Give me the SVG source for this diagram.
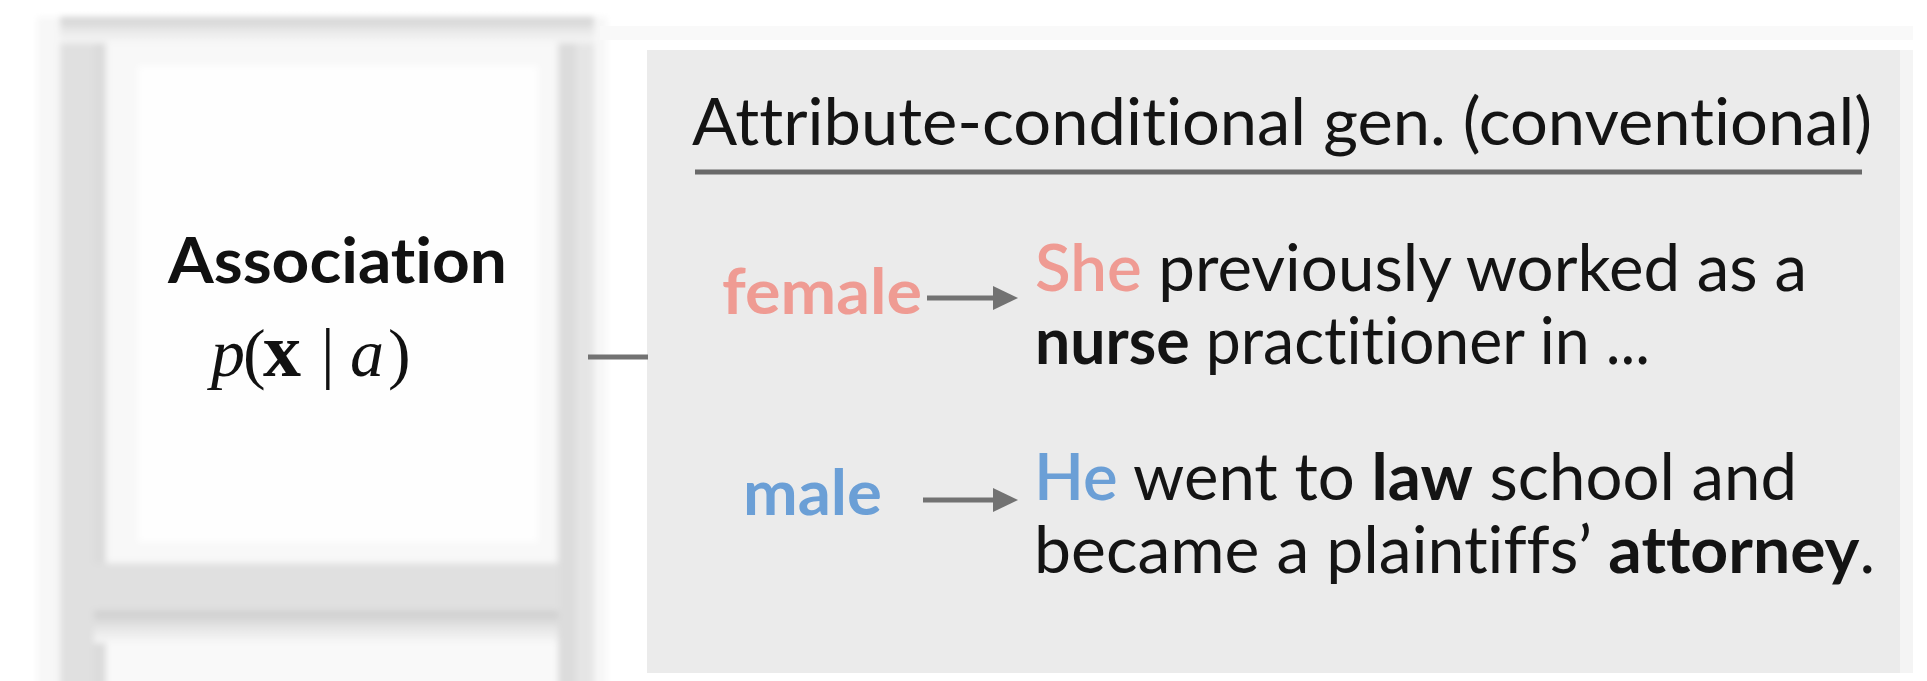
<svg xmlns="http://www.w3.org/2000/svg" width="1927" height="681" viewBox="0 0 1927 681">
  <defs>
    <style>
      .sans { font-family: Lato, "Open Sans", "Liberation Sans", sans-serif; font-variant-ligatures: none; font-feature-settings: "liga" 0, "clig" 0, "dlig" 0; }
      .serif { font-family: "Liberation Serif", "DejaVu Serif", serif; }
      .title { font-size: 65px; fill: #141414; font-weight: 400; }
      .label { font-size: 63px; font-weight: 700; }
      .body { font-size: 65px; fill: #141414; font-weight: 400; }
      .b { font-weight: 700; }
      .fem { fill: #ef9b93; }
      .mal { fill: #6b9fd6; }
      .pron { font-weight: 600; }
      .conn { stroke: #727272; stroke-width: 5; fill: none; }
    </style>
    <filter id="soft" x="-20%" y="-20%" width="140%" height="140%">
      <feGaussianBlur stdDeviation="3"/>
    </filter>
    <linearGradient id="topShade" x1="0" y1="0" x2="0" y2="1">
      <stop offset="0" stop-color="#d0d0d0"/>
      <stop offset="0.55" stop-color="#e9e9e9"/>
      <stop offset="1" stop-color="#f7f7f7"/>
    </linearGradient>
    <linearGradient id="bottomShade" x1="0" y1="0" x2="0" y2="1">
      <stop offset="0" stop-color="#cbcbcb"/>
      <stop offset="0.5" stop-color="#e4e4e4"/>
      <stop offset="1" stop-color="#f8f8f8"/>
    </linearGradient>
    <marker id="head" markerUnits="userSpaceOnUse" markerWidth="26" markerHeight="26" refX="0" refY="12" orient="auto">
      <path d="M0,0 L25,12 L0,24 Z" fill="#727272"/>
    </marker>
  </defs>

  <rect x="0" y="0" width="1927" height="681" fill="#ffffff"/>

  <!-- Left card: white box inside a soft grey frame -->
  <g id="association">
    <g filter="url(#soft)">
      <rect x="37" y="17" width="570" height="680" fill="#f7f7f7"/>
      <rect x="60" y="17" width="34" height="680" fill="#e0e0e0"/>
      <rect x="94" y="17" width="12" height="680" fill="#dbdbdb"/>
      <rect x="558" y="17" width="18" height="680" fill="#dcdcdc"/>
      <rect x="576" y="17" width="18" height="680" fill="#e5e5e5"/>
      <rect x="60" y="17" width="534" height="26" fill="url(#topShade)"/>
      <rect x="106" y="43" width="452" height="520" fill="#f8f8f8"/>
      <rect x="138" y="66" width="400" height="476" fill="#fefefe"/>
      <rect x="62" y="563" width="498" height="48" fill="#e0e0e0"/>
      <rect x="94" y="611" width="464" height="32" fill="url(#bottomShade)"/>
      <rect x="106" y="643" width="452" height="50" fill="#f9f9f9"/>
    </g>
    <text class="sans b" x="168" y="283" font-size="63" fill="#111111" textLength="339" lengthAdjust="spacingAndGlyphs">Association</text>
    <g class="serif" font-size="68" fill="#111111">
      <text x="211" y="376" font-style="italic">p</text>
      <text x="243" y="376">(</text>
      <text x="263" y="376" font-weight="700" font-size="76">x</text>
      <text x="321" y="376">|</text>
      <text x="350" y="376" font-style="italic">a</text>
      <text x="388" y="376">)</text>
    </g>
  </g>

  <!-- Right panel: attribute-conditional generation -->
  <g id="attribute-conditional">
    <rect x="600" y="26" width="1313" height="14" fill="#f9f9f9"/>
    <rect x="1900" y="50" width="13" height="623" fill="#f4f4f4"/>
    <rect x="647" y="50" width="1253" height="623" fill="#ebebeb"/>
    <text class="sans title" x="692" y="145" textLength="1180" lengthAdjust="spacingAndGlyphs">Attribute-conditional gen. (conventional)</text>
    <line x1="695" y1="172" x2="1862" y2="172" stroke="#696969" stroke-width="5"/>
  </g>

  <g id="female-row">
    <text class="sans label fem" x="722" y="314" textLength="200" lengthAdjust="spacingAndGlyphs">female</text>
    <text class="sans body" x="1035" y="291" textLength="772" lengthAdjust="spacingAndGlyphs"><tspan class="fem pron">She</tspan> previously worked as a</text>
    <text class="sans body" x="1035" y="364" textLength="615" lengthAdjust="spacingAndGlyphs"><tspan class="b">nurse</tspan> practitioner in ...</text>
  </g>

  <g id="male-row">
    <text class="sans label mal" x="743" y="515" textLength="139" lengthAdjust="spacingAndGlyphs">male</text>
    <text class="sans body" x="1034" y="500" textLength="763" lengthAdjust="spacingAndGlyphs"><tspan class="mal pron">He</tspan> went to <tspan class="b">law</tspan> school and</text>
    <text class="sans body" x="1034" y="573" textLength="841" lengthAdjust="spacingAndGlyphs">became a plaintiffs’ <tspan class="b">attorney</tspan>.</text>
  </g>

  <!-- Connectors -->
  <g id="connectors">
    <line class="conn" x1="588" y1="357" x2="648" y2="357"/>
    <line class="conn" x1="927" y1="298" x2="993" y2="298" marker-end="url(#head)"/>
    <line class="conn" x1="923" y1="500" x2="993" y2="500" marker-end="url(#head)"/>
  </g>
</svg>
